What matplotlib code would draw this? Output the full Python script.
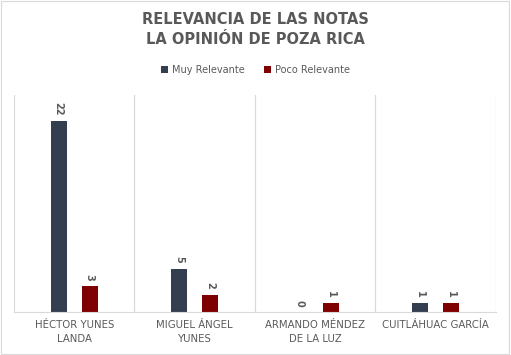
import numpy as np
import matplotlib
matplotlib.use("Agg")
import matplotlib.pyplot as plt
from matplotlib.patches import Rectangle

# data
categories = ["HÉCTOR YUNES\nLANDA", "MIGUEL ÁNGEL\nYUNES", "ARMANDO MÉNDEZ\nDE LA LUZ", "CUITLÁHUAC GARCÍA"]
muy_relevante = [22, 5, 0, 1]
poco_relevante = [3, 2, 1, 1]

c_muy = "#333F50"
c_poco = "#7F0000"
grey = "#595959"

fig = plt.figure(figsize=(5.11, 3.55), dpi=100)
ax = fig.add_axes([0.0274, 0.1211, 0.9432, 0.6113])

x = np.arange(len(categories))
w = 0.133
off = 0.129
b1 = ax.bar(x - off, muy_relevante, w, color=c_muy, label="Muy Relevante")
b2 = ax.bar(x + off, poco_relevante, w, color=c_poco, label="Poco Relevante")

for bars in (b1, b2):
    for r in bars:
        h = r.get_height()
        ax.annotate(str(int(h)), (r.get_x() + r.get_width() / 2, h),
                    xytext=(0, 4), textcoords="offset points",
                    ha="center", va="bottom", rotation=270,
                    fontsize=7, color=grey, fontweight="bold")

ax.set_xlim(-0.5, len(categories) - 0.5)
ax.set_ylim(0, 25)
ax.set_yticks([])
ax.set_xticks(x)
ax.set_xticklabels(categories, fontsize=7.3, color=grey, linespacing=1.5)
ax.tick_params(axis="x", length=0, pad=6)
for xv in np.arange(-0.5, len(categories), 1):
    ax.axvline(xv, color="#D9D9D9", lw=0.9, zorder=0)
for s in ["top", "left", "right"]:
    ax.spines[s].set_visible(False)
ax.spines["bottom"].set_color("#D9D9D9")

fig.text(0.5, 0.945, "RELEVANCIA DE LAS NOTAS", ha="center", va="center",
         fontsize=10.5, fontweight="bold", color=grey)
fig.text(0.5, 0.888, "LA OPINIÓN DE POZA RICA", ha="center", va="center",
         fontsize=10.5, fontweight="bold", color=grey)

fig.legend(loc="center", bbox_to_anchor=(0.5, 0.803), ncol=2, frameon=False,
           fontsize=7, handlelength=0.7, handleheight=0.7, columnspacing=2.0,
           handletextpad=0.4, labelcolor=grey)

fig.patches.append(Rectangle((0.002, 0.003), 0.995, 0.994, transform=fig.transFigure,
                             fill=False, edgecolor="#D9D9D9", lw=0.8))

fig.savefig("out.png", dpi=100)
